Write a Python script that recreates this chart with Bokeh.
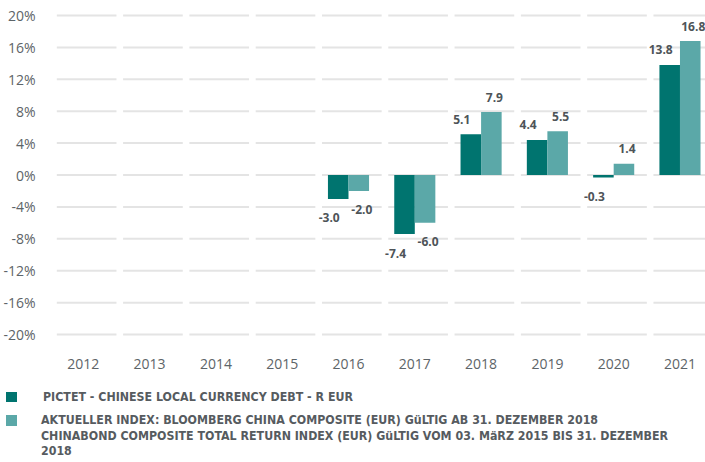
import numpy as np
import pandas as pd
from bokeh.plotting import figure
from bokeh.models import ColumnDataSource, Range1d, FixedTicker, PrintfTickFormatter, Div
from bokeh.layouts import column
from bokeh.embed import file_html
from bokeh.resources import INLINE
from bokeh.core.properties import value

# ---- data ----
years = ["2012", "2013", "2014", "2015", "2016", "2017", "2018", "2019", "2020", "2021"]
fund_values = [None, None, None, None, -3.0, -7.4, 5.1, 4.4, -0.3, 13.8]
index_values = [None, None, None, None, -2.0, -6.0, 7.9, 5.5, 1.4, 16.8]
y_ticks = [-20, -16, -12, -8, -4, 0, 4, 8, 12, 16, 20]
fund_name = ["PICTET - CHINESE LOCAL CURRENCY DEBT - R EUR"]
index_name = [
    "AKTUELLER INDEX: BLOOMBERG CHINA COMPOSITE (EUR) GüLTIG AB 31. DEZEMBER 2018",
    "CHINABOND COMPOSITE TOTAL RETURN INDEX (EUR) GüLTIG VOM 03. MäRZ 2015 BIS 31. DEZEMBER",
    "2018",
]

# ---- styles ----
DARK = "#00746f"
LIGHT = "#5ba8a8"
GRID = "#e4e4e4"
AXIS_TXT = "#5d6468"
LBL_TXT = "#4e5458"
LEG_TXT = "#565b5f"
LEG_FONT = "DejaVu Sans Condensed"
BAR_W = 0.31
W = 705

idx = np.arange(len(years))


def series_frame(vals, shift, xoff):
    df = pd.DataFrame({"i": idx, "v": vals}).dropna()
    df["x"] = df["i"] + shift
    df["lbl"] = [f"{v:.1f}" for v in df["v"]]
    df["xo"] = xoff
    df["yo"] = np.where(df["v"] >= 0, -15, 19)
    return ColumnDataSource(df)


src_f = series_frame(fund_values, -BAR_W / 2, -9)
src_i = series_frame(index_values, BAR_W / 2, 3)

p = figure(
    width=W, height=380,
    x_range=Range1d(-0.495, 9.385), y_range=Range1d(-21.5, 21.88),
    output_backend="svg", toolbar_location=None,
    min_border_left=47, min_border_right=0, min_border_top=0, min_border_bottom=34,
)
p.outline_line_color = None
p.xgrid.visible = False
p.ygrid.visible = False

# segmented gridlines per category band
gx0, gx1, gy = [], [], []
for i in idx:
    for t in y_ticks:
        gx0.append(i - 0.4)
        gx1.append(i + 0.5)
        gy.append(t)
p.segment(x0=gx0, x1=gx1, y0=gy, y1=gy, line_color=GRID, line_width=2)

p.vbar(x="x", top="v", bottom=0, width=BAR_W, source=src_f, fill_color=DARK, line_color=None)
p.vbar(x="x", top="v", bottom=0, width=BAR_W, source=src_i, fill_color=LIGHT, line_color=None)

for src in (src_f, src_i):
    p.text(x="x", y="v", text="lbl", x_offset="xo", y_offset="yo", source=src,
           text_font=value("Open Sans"), text_font_style="bold", text_font_size="12px",
           text_color=LBL_TXT, text_align="center", text_baseline="middle")

p.xaxis.ticker = FixedTicker(ticks=list(idx))
p.xaxis.major_label_overrides = {int(i): y for i, y in zip(idx, years)}
p.yaxis.ticker = FixedTicker(ticks=y_ticks)
p.yaxis.formatter = PrintfTickFormatter(format="%d%%")
for ax in (p.xaxis, p.yaxis):
    ax.axis_line_color = None
    ax.major_tick_line_color = None
    ax.minor_tick_line_color = None
    ax.major_label_text_font = "Open Sans"
    ax.major_label_text_font_size = "14px"
    ax.major_label_text_color = AXIS_TXT
p.xaxis.major_label_standoff = 6
p.yaxis.major_label_standoff = 9

# ---- legend (HTML block under the plot) ----
def sw(top, h, col):
    return (f'<span style="position:absolute;left:6px;top:{top}px;width:11px;height:{h}px;'
            f'background:{col};"></span>')


def line(left, top, txt):
    return (f'<span style="position:absolute;left:{left}px;top:{top}px;line-height:14px;'
            f'white-space:nowrap;">{txt}</span>')


html = (
    f'<div style="position:relative;width:{W}px;height:82px;font-family:\'{LEG_FONT}\';'
    f'font-weight:bold;font-size:12.3px;color:{LEG_TXT};margin:0;padding:0;">'
    + sw(12, 10, DARK) + sw(35, 11, LIGHT)
    + line(43, 10, fund_name[0])
    + "".join(line(41, t, s) for t, s in zip((33, 49, 64), index_name))
    + "</div>"
)
legend = Div(text=html, width=W, height=82, margin=0)

layout = column(p, legend, spacing=0)
open("out.html", "w").write(file_html(layout, INLINE))
